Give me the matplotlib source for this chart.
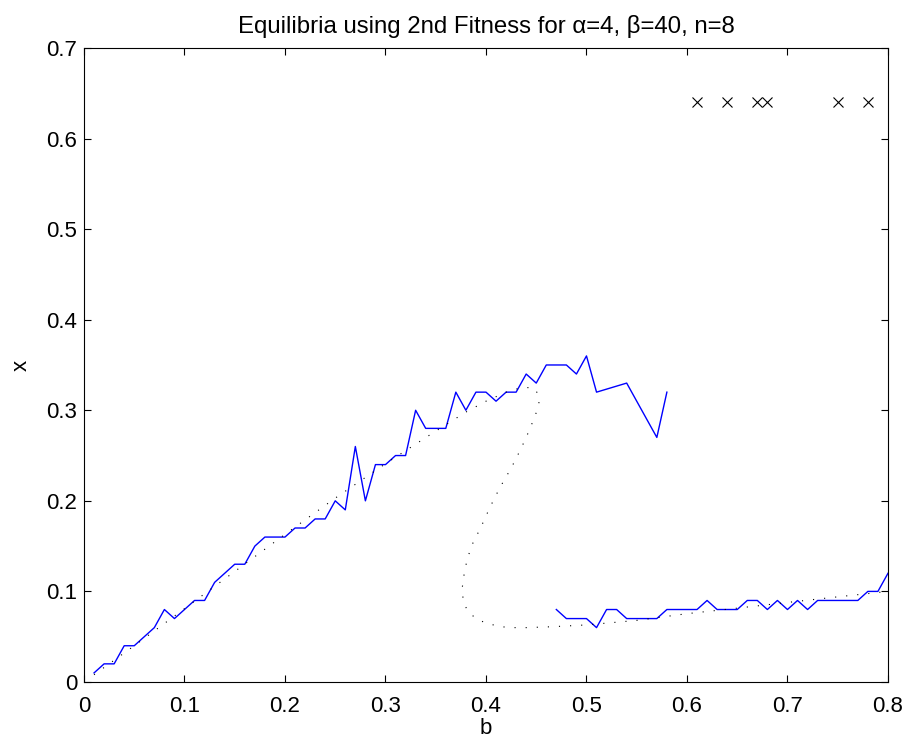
import numpy as np
import matplotlib.pyplot as plt

plt.rcParams['font.family'] = ['Liberation Sans', 'DejaVu Sans']

# simulated equilibria (upper branch)
b_upper = [0.01, 0.02, 0.03, 0.04, 0.05, 0.06, 0.07, 0.08, 0.09, 0.10,
           0.11, 0.12, 0.13, 0.14, 0.15, 0.16, 0.17, 0.18, 0.19, 0.20,
           0.21, 0.22, 0.23, 0.24, 0.25, 0.26, 0.27, 0.28, 0.29, 0.30,
           0.31, 0.32, 0.33, 0.34, 0.35, 0.36, 0.37, 0.38, 0.39, 0.40,
           0.41, 0.42, 0.43, 0.44, 0.45, 0.46, 0.47, 0.48, 0.49, 0.50,
           0.51, 0.54, 0.57, 0.58]
x_upper = [0.01, 0.02, 0.02, 0.04, 0.04, 0.05, 0.06, 0.08, 0.07, 0.08,
           0.09, 0.09, 0.11, 0.12, 0.13, 0.13, 0.15, 0.16, 0.16, 0.16,
           0.17, 0.17, 0.18, 0.18, 0.20, 0.19, 0.26, 0.20, 0.24, 0.24,
           0.25, 0.25, 0.30, 0.28, 0.28, 0.28, 0.32, 0.30, 0.32, 0.32,
           0.31, 0.32, 0.32, 0.34, 0.33, 0.35, 0.35, 0.35, 0.34, 0.36,
           0.32, 0.33, 0.27, 0.32]

# simulated equilibria (lower branch)
b_lower = [0.47, 0.48, 0.49, 0.50, 0.51, 0.52, 0.53, 0.54, 0.55, 0.56,
           0.57, 0.58, 0.59, 0.60, 0.61, 0.62, 0.63, 0.64, 0.65, 0.66,
           0.67, 0.68, 0.69, 0.70, 0.71, 0.72, 0.73, 0.74, 0.75, 0.76,
           0.77, 0.78, 0.79, 0.80]
x_lower = [0.08, 0.07, 0.07, 0.07, 0.06, 0.08, 0.08, 0.07, 0.07, 0.07,
           0.07, 0.08, 0.08, 0.08, 0.08, 0.09, 0.08, 0.08, 0.08, 0.09,
           0.09, 0.08, 0.09, 0.08, 0.09, 0.08, 0.09, 0.09, 0.09, 0.09,
           0.09, 0.10, 0.10, 0.12]

# analytic equilibrium curve
b_theory = [0.01, 0.05, 0.10, 0.15, 0.20, 0.25, 0.30, 0.35, 0.38, 0.40,
            0.42, 0.435, 0.447, 0.452, 0.453, 0.451, 0.448, 0.444, 0.435,
            0.425, 0.414, 0.404, 0.395, 0.385, 0.379, 0.376, 0.378, 0.382,
            0.390, 0.400, 0.411, 0.422, 0.44, 0.466, 0.50, 0.55, 0.60,
            0.65, 0.70, 0.75, 0.80]
x_theory = [0.008, 0.04, 0.081, 0.122, 0.163, 0.203, 0.241, 0.277, 0.298, 0.31,
            0.320, 0.325, 0.325, 0.318, 0.31, 0.30, 0.292, 0.280, 0.258,
            0.236, 0.215, 0.193, 0.171, 0.149, 0.125, 0.101, 0.087, 0.078,
            0.070, 0.065, 0.062, 0.060, 0.060, 0.061, 0.063, 0.068, 0.0754,
            0.0815, 0.0878, 0.094, 0.100]

# unstable points
b_cross = [0.61, 0.64, 0.67, 0.68, 0.75, 0.78]
x_cross = [0.64, 0.64, 0.64, 0.64, 0.64, 0.64]

fig = plt.figure(figsize=(9.1, 7.45), dpi=100)
ax = fig.add_axes([0.0923, 0.0846, 0.8835, 0.851])

ax.plot(b_upper, x_upper, color='#0000ff', linewidth=1.0)
ax.plot(b_lower, x_lower, color='#0000ff', linewidth=1.0)
ax.plot(b_theory, x_theory, color='black', linewidth=0.8, linestyle=(0, (1, 9)))
ax.plot(b_cross, x_cross, 'x', color='black', markersize=7, markeredgewidth=0.8)

ax.set_xlim(0, 0.8)
ax.set_ylim(0, 0.7)
ax.set_xticks(np.arange(0, 0.81, 0.1))
ax.set_xticklabels(['0', '0.1', '0.2', '0.3', '0.4', '0.5', '0.6', '0.7', '0.8'])
ax.set_yticks(np.arange(0, 0.71, 0.1))
ax.set_yticklabels(['0', '0.1', '0.2', '0.3', '0.4', '0.5', '0.6', '0.7'])
ax.tick_params(direction='in', top=True, right=True, length=5, width=0.8,
               labelsize=16)
ax.tick_params(axis='x', pad=10)
ax.tick_params(axis='y', pad=5)
for s in ax.spines.values():
    s.set_linewidth(0.8)

ax.set_xlabel('b', fontsize=16, labelpad=1)
ax.set_ylabel('x', fontsize=16, labelpad=10)
ax.set_title('Equilibria using 2nd Fitness for \u03b1=4, \u03b2=40, n=8', fontsize=17.3, pad=11)

fig.savefig('out.png', dpi=100)
